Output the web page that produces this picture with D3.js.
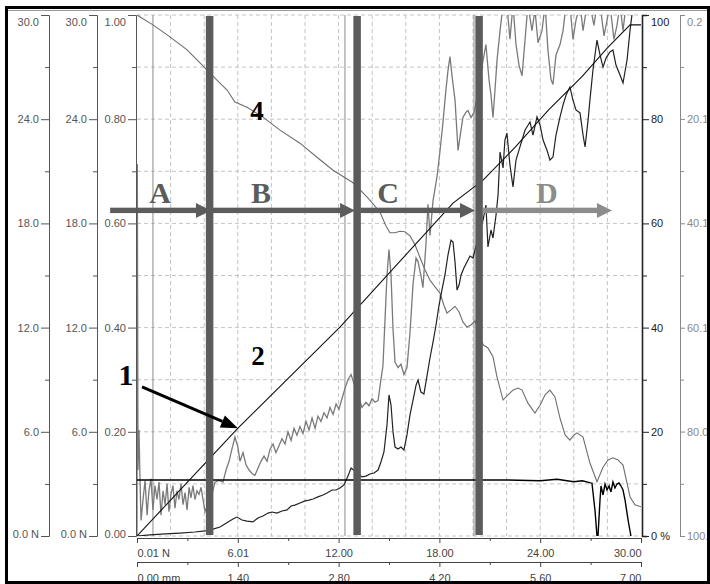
<!DOCTYPE html>
<html>
<head>
<meta charset="utf-8">
<script src="https://cdn.jsdelivr.net/npm/d3@7"></script>
<style>
  body { margin: 0; background: #fff; }
  svg { display: block; font-family: "Liberation Sans", Arial, sans-serif; }
</style>
</head>
<body>
<svg width="710" height="584"></svg>
<script>
// ---- data ----
// bottom axes
var xTickVals = [0, 6, 12, 18, 24, 30];
var xTickLabels = ["0.01 N", "6.01", "12.00", "18.00", "24.00", "30.00"];
var mmTickVals = [0, 1.4, 2.8, 4.2, 5.6, 7];
var mmTickLabels = ["0.00 mm", "1.40", "2.80", "4.20", "5.60", "7.00"];
// left axes
var nTickVals = [0, 6, 12, 18, 24, 30];
var nTickLabels = ["0.0 N", "6.0", "12.0", "18.0", "24.0", "30.0"];
var fTickVals = [0, 0.2, 0.4, 0.6, 0.8, 1.0];
// right axes
var pTickVals = [0, 20, 40, 60, 80, 100];
var pTickLabels = ["0 %", "20", "40", "60", "80", "100"];
var rTickVals = [0.2, 20.1, 40.1, 60.1, 80.0, 100.0];

// phases A-D, boundaries in bottom-axis units
var phaseNames = ["A", "B", "C", "D"];
var phaseStart = [-1.6, 4.5, 13.3, 20.6];
var phaseEnd = [4.4, 12.98, 20.12, 28.27];
var phaseLabelX = [1.37, 7.38, 14.94, 24.4];
var phaseBounds = [4.32, 13.1, 20.36];
var cursorLines = [0.95, 12.38, 20.06];

// curve 2: grey noisy force (N)
var greyForce = [
  [0,0],[0.02,21.4],[0.06,3.8],[0.12,6.1],[0.18,3.2],[0.24,0.9],[0.36,2.1],[0.48,3.2],[0.6,1.2],[0.71,2.6],
  [0.83,3.3],[0.95,1.5],[1.07,2.9],[1.19,2.1],[1.31,3.1],[1.43,1.2],[1.55,2.6],[1.67,1.8],[1.79,3.0],[1.9,1.4],
  [2.02,2.4],[2.14,2.9],[2.26,1.6],[2.38,2.6],[2.5,2.1],[2.62,3.0],[2.74,1.8],[2.86,2.5],[2.98,1.5],[3.1,2.8],
  [3.21,2.2],[3.33,2.9],[3.45,2.1],[3.57,2.6],[3.69,2.4],[3.81,2.8],[3.93,2.1],[4.05,1.4],
  [4.46,2.4],[4.64,3.1],[4.88,3.2],[5.12,3.1],[5.3,3.8],[5.48,4.3],[5.65,5.0],[5.83,5.7],[6.01,5.1],[6.13,4.3],
  [6.31,4.8],[6.49,4.1],[6.67,3.8],[6.85,3.6],[7.02,3.5],[7.2,3.9],[7.38,4.3],[7.56,4.6],[7.74,4.3],[7.92,5.0],
  [8.1,5.3],[8.27,4.8],[8.45,5.2],[8.63,5.6],[8.81,5.3],[8.99,6.0],[9.17,5.5],[9.35,6.2],[9.52,5.8],[9.7,6.3],
  [9.88,5.9],[10.06,6.6],[10.24,6.1],[10.42,6.8],[10.6,6.2],[10.77,6.9],[10.95,6.6],[11.13,7.1],[11.31,6.8],
  [11.49,7.4],[11.67,7.0],[11.85,7.6],[12.02,7.3],[12.2,7.9],[12.38,8.5],[12.56,9.0],[12.74,9.3],
  [13.39,7.4],[13.63,7.7],[13.81,7.5],[13.99,7.9],[14.17,7.7],[14.35,7.8],[14.52,9.0],[14.64,9.8],[14.76,12.4],
  [14.88,15.0],[15.0,16.5],[15.12,15.0],[15.24,11.9],[15.36,10.0],[15.54,9.7],[15.71,9.9],[15.89,9.3],[16.07,9.7],
  [16.25,11.7],[16.43,14.5],[16.61,16.0],[16.73,15.8],[16.9,15.0],[17.02,14.3],[17.2,16.8],[17.32,19.1],[17.44,17.3],
  [17.62,19.3],[17.86,20.7],[18.04,22.2],[18.21,23.8],[18.39,25.7],[18.51,26.8],[18.63,27.6],[18.75,26.5],
  [18.93,25.1],[19.11,22.2],[19.29,23.4],[19.4,24.1],[19.58,24.4],[19.7,24.5],[19.88,24.1],[20.06,24.4],[20.3,25.5],
  [20.6,27.4],[20.77,28.3],[20.95,26.3],[21.07,25.4],[21.19,24.1],[21.31,25.7],[21.43,27.4],[21.61,29.1],[21.79,30.6],
  [22.02,30.6],[22.2,28.6],[22.38,30.6],[22.56,28.3],[22.74,27.1],[22.92,26.5],[23.1,28.6],[23.27,30.6],[23.51,29.1],
  [23.69,30.3],[23.87,28.4],[24.11,29.1],[24.29,30.6],[24.46,28.0],[24.64,26.3],[24.76,26.0],[24.94,27.7],[25.18,28.3],
  [25.36,29.1],[25.54,30.6],[25.77,30.6],[25.95,28.6],[26.13,29.7],[26.37,30.6],[26.55,29.1],[26.79,30.6],[26.96,30.6],
  [27.2,29.4],[27.38,30.6],[27.56,30.6],[27.8,28.8],[27.98,29.7],[28.15,30.6],[28.39,28.6],[28.57,29.4],[28.75,30.6],
  [28.93,29.1],[29.11,30.6],[30,30.6]
];

// dark noisy force (N)
var darkForce = [
  [0,0],[0.77,0.06],[1.67,0.12],[2.56,0.17],[3.45,0.23],[4.05,0.29],[4.52,0.4],[4.94,0.52],[5.42,0.81],[5.71,0.98],
  [5.95,1.09],[6.25,0.92],[6.55,0.86],[6.9,0.81],[7.2,1.04],[7.5,1.15],[7.8,1.32],[8.04,1.38],[8.33,1.32],[8.63,1.44],
  [8.93,1.5],[9.17,1.73],[9.4,1.78],[9.7,1.9],[10.0,2.02],[10.24,2.07],[10.48,2.13],[10.77,2.25],[11.07,2.36],
  [11.31,2.48],[11.61,2.65],[11.85,2.65],[12.08,2.76],[12.32,2.94],[12.56,3.45],[12.74,3.92],
  [13.39,3.4],[13.63,3.45],[13.87,3.57],[14.11,3.63],[14.35,3.8],[14.52,4.26],[14.7,4.84],[14.88,6.39],[15.0,8.12],
  [15.12,7.54],[15.24,5.99],[15.36,5.12],[15.54,5.01],[15.71,5.12],[15.89,4.95],[16.07,5.82],[16.25,6.97],[16.43,7.83],
  [16.61,8.69],[16.73,8.98],[16.9,8.29],[17.08,8.18],[17.26,9.21],[17.44,10.25],[17.62,11.17],[17.8,12.15],[17.98,13.3],
  [18.15,14.16],[18.33,15.03],[18.51,16.18],[18.69,17.04],[18.81,16.93],[18.93,15.78],[19.05,14.16],[19.17,14.45],
  [19.29,15.03],[19.46,15.43],[19.64,15.78],[19.82,16.12],[20.0,16.01],[20.12,16.47],
  [20.6,18.2],[20.77,19.06],[20.89,16.64],[21.07,17.62],[21.19,17.16],[21.37,18.48],[21.49,19.63],[21.61,22.11],
  [21.79,21.19],[21.9,22.8],[22.02,23.2],[22.2,21.36],[22.38,20.1],[22.56,21.65],[22.74,22.23],[22.92,22.8],[23.1,23.38],
  [23.21,23.55],[23.39,23.84],[23.57,23.09],[23.81,24.13],[23.99,23.67],[24.17,22.8],[24.4,22.23],[24.58,21.65],
  [24.76,21.82],[24.94,23.09],[25.18,24.13],[25.36,24.82],[25.54,25.39],[25.77,25.85],[25.95,25.1],[26.13,24.53],
  [26.37,24.36],[26.55,23.09],[26.67,22.4],[26.85,23.95],[26.96,25.1],[27.14,26.83],[27.38,28.56],[27.56,27.7],
  [27.74,27.0],[27.92,27.52],[28.15,27.87],[28.33,27.98],[28.51,27.12],[28.75,26.54],[28.93,26.08],[29.17,27.41],
  [29.35,29.14],[29.46,30.0]
];

// curve 4: fraction 0..1
var curve4 = [
  [0,1.0],[0.95,0.981],[1.96,0.958],[2.98,0.933],[3.75,0.908],[4.17,0.894],[4.64,0.879],[5.36,0.856],[5.83,0.833],
  [6.55,0.823],[7.5,0.804],[8.51,0.779],[9.7,0.754],[10.71,0.727],[11.67,0.702],[12.86,0.678],[13.69,0.651],
  [14.46,0.622],[14.82,0.595],[15.06,0.582],[15.36,0.582],[15.65,0.585],[15.95,0.584],[16.25,0.576],[16.55,0.559],
  [16.85,0.534],[17.14,0.511],[17.44,0.491],[17.74,0.478],[18.04,0.466],[18.27,0.443],[18.45,0.428],[18.69,0.434],
  [18.93,0.441],[19.17,0.43],[19.4,0.411],[19.64,0.401],[19.88,0.405],[20.12,0.413],[20.6,0.367],[20.89,0.361],
  [21.19,0.344],[21.43,0.305],[21.79,0.261],[22.08,0.271],[22.38,0.28],[22.68,0.284],[22.92,0.28],[23.27,0.255],
  [23.69,0.236],[23.99,0.251],[24.29,0.271],[24.58,0.28],[24.88,0.267],[25.18,0.226],[25.48,0.194],[25.77,0.184],
  [26.01,0.194],[26.19,0.198],[26.55,0.19],[26.96,0.14],[27.38,0.104],[27.74,0.132],[28.04,0.146],[28.33,0.15],
  [28.63,0.146],[28.93,0.136],[29.35,0.075],[29.64,0.06],[30,0.056]
];

// curve 1: diagonal (%)
var curve1 = [
  [0,0],[6.01,20.7],[12.08,40.1],[18.81,63.9],[20.6,68.3],[22.5,74.6],[24.5,81.8],[26.5,88.2],[28,93.7],[29.35,98.1],[30,98.1]
];

// flat black line (%)
var flatLine = [
  [0,10.75],[22,10.75],[24,10.6],[25,10.9],[26,10.4],[26.5,10.6],[27,10.2],[27.08,10.17],[27.26,4.99],[27.38,0],
  [27.44,0],[27.56,6.91],[27.62,9.6],[27.74,7.87],[27.86,9.98],[27.98,8.83],[28.1,9.6],[28.21,8.45],[28.33,10.36],
  [28.45,9.21],[28.57,9.98],[28.69,10.17],[28.81,9.6],[28.93,8.83],[29.05,6.91],[29.23,3.07],[29.4,0]
];

// ---- layout ----
var svg = d3.select("svg");
var plotL = 137, plotR = 641, plotT = 15, plotB = 536;

var x = d3.scaleLinear().domain([0, 30]).range([plotL, plotR]);
var xMm = d3.scaleLinear().domain([0, 7]).range([plotL, plotR]);
var yN = d3.scaleLinear().domain([0, 30]).range([plotB, plotT]);
var yF = d3.scaleLinear().domain([0, 1]).range([plotB, plotT]);
var yP = d3.scaleLinear().domain([0, 100]).range([plotB, plotT]);
var yR = d3.scaleLinear().domain([0.2, 100]).range([plotT, plotB]);

svg.append("defs").append("clipPath").attr("id", "plot")
  .append("rect").attr("x", plotL).attr("y", plotT)
  .attr("width", plotR - plotL).attr("height", plotB - plotT);

// grid
var grid = svg.append("g").attr("stroke", "#c4c4c4").attr("stroke-dasharray", "4,3");
grid.selectAll(".h").data(yF.ticks(10)).enter().append("line")
  .attr("x1", plotL).attr("x2", plotR)
  .attr("y1", function(d) { return yF(d); }).attr("y2", function(d) { return yF(d); });
grid.selectAll(".v").data(x.ticks(10).filter(function(d) { return d > 0 && d < 30; })).enter().append("line")
  .attr("y1", plotT).attr("y2", plotB)
  .attr("x1", function(d) { return x(d); }).attr("x2", function(d) { return x(d); });

// thin cursor lines
svg.append("g").selectAll("line").data(cursorLines).enter().append("line")
  .attr("x1", function(d) { return x(d); }).attr("x2", function(d) { return x(d); })
  .attr("y1", plotT).attr("y2", plotB)
  .attr("stroke", "#8a8a8a").attr("stroke-width", 1);

// curves
var curves = svg.append("g").attr("clip-path", "url(#plot)").attr("fill", "none");
function lineFor(ys) {
  return d3.line().x(function(d) { return x(d[0]); }).y(function(d) { return ys(d[1]); });
}
curves.append("path").attr("d", lineFor(yF)(curve4)).attr("stroke", "#6e6e6e").attr("stroke-width", 1.1);
curves.append("path").attr("d", lineFor(yN)(greyForce)).attr("stroke", "#7a7a7a").attr("stroke-width", 1.3);
curves.append("path").attr("d", lineFor(yN)(darkForce)).attr("stroke", "#222").attr("stroke-width", 1.2);
curves.append("path").attr("d", lineFor(yP)(flatLine)).attr("stroke", "#000").attr("stroke-width", 1.4);
curves.append("path").attr("d", lineFor(yP)(curve1)).attr("stroke", "#111").attr("stroke-width", 1.1);

// phase boundary bars
svg.append("g").selectAll("rect").data(phaseBounds).enter().append("rect")
  .attr("x", function(d) { return x(d) - 3.7; })
  .attr("y", plotT + 1).attr("width", 7.5).attr("height", plotB - plotT - 2)
  .attr("fill", "#5c5c5c");

// phase arrows and letters
var arrowY = yF(0.625);
var phases = svg.append("g");
phaseNames.forEach(function(name, i) {
  var col = i == 3 ? "#8c8c8c" : "#5c5c5c";
  var x0 = x(phaseStart[i]), x1 = x(phaseEnd[i]);
  phases.append("rect")
    .attr("x", x0).attr("y", arrowY - 2.7)
    .attr("width", x1 - 14 - x0).attr("height", 5.4)
    .attr("fill", col);
  phases.append("path")
    .attr("d", "M" + (x1 - 15) + "," + (arrowY - 7.5) + "L" + x1 + "," + arrowY + "L" + (x1 - 15) + "," + (arrowY + 7.5) + "Z")
    .attr("fill", col);
  phases.append("text")
    .attr("x", x(phaseLabelX[i])).attr("y", yF(0.639))
    .attr("text-anchor", "middle")
    .attr("font-family", "'Liberation Serif', 'Times New Roman', serif")
    .attr("font-weight", "bold").attr("font-size", 30)
    .attr("fill", col)
    .text(name);
});

// curve labels 1, 2, 4
var serif = "'Liberation Serif', 'Times New Roman', serif";
svg.append("text").attr("x", x(-0.65)).attr("y", yF(0.29)).attr("text-anchor", "middle")
  .attr("font-family", serif).attr("font-weight", "bold").attr("font-size", 30).text("1");
svg.append("text").attr("x", x(7.2)).attr("y", yF(0.328)).attr("text-anchor", "middle")
  .attr("font-family", serif).attr("font-weight", "bold").attr("font-size", 27).text("2");
svg.append("text").attr("x", x(7.14)).attr("y", yF(0.798)).attr("text-anchor", "middle")
  .attr("font-family", serif).attr("font-weight", "bold").attr("font-size", 27).text("4");

// pointer arrow for curve 1
(function() {
  var ax0 = x(0.3), ay0 = yF(0.286), ax1 = x(6.01), ay1 = yF(0.207);
  var a = Math.atan2(ay1 - ay0, ax1 - ax0), hl = 17, hw = 6.5;
  var bx = ax1 - hl * Math.cos(a), by = ay1 - hl * Math.sin(a);
  svg.append("line").attr("x1", ax0).attr("y1", ay0).attr("x2", bx).attr("y2", by)
    .attr("stroke", "#000").attr("stroke-width", 3);
  svg.append("path")
    .attr("d", "M" + ax1 + "," + ay1 +
      "L" + (bx + hw * Math.sin(a)) + "," + (by - hw * Math.cos(a)) +
      "L" + (bx - hw * Math.sin(a)) + "," + (by + hw * Math.cos(a)) + "Z")
    .attr("fill", "#000");
})();

// ---- axes ----
function styleAxis(g, col) {
  g.attr("font-size", 11).attr("font-family", "'Liberation Sans', Arial, sans-serif").attr("color", col);
}
function edgeLabels(g) {
  // top label sits below the axis end, bottom label slightly raised
  g.selectAll(".tick text").attr("dy", function(d, i, n) {
    if (i == n.length - 1) return "0.95em";
    if (i == 0) return "0.1em";
    return "0.32em";
  });
}

function leftAxis(px, scale, vals, labels, minor) {
  var g = svg.append("g").attr("transform", "translate(" + px + ",0)");
  g.call(d3.axisLeft(scale).tickValues(vals).tickSize(8).tickSizeOuter(5).tickPadding(2)
    .tickFormat(function(d, i) { return labels ? labels[i] : d3.format(".2f")(d); }));
  styleAxis(g, "#555");
  edgeLabels(g);
  var m = svg.append("g").attr("transform", "translate(" + px + ",0)")
    .call(d3.axisLeft(scale).tickValues(minor).tickSize(4).tickFormat(""));
  m.select(".domain").remove();
  m.attr("color", "#555");
}
leftAxis(49, yN, nTickVals, nTickLabels, [3, 9, 15, 21, 27]);
leftAxis(97, yN, nTickVals, nTickLabels, [3, 9, 15, 21, 27]);
leftAxis(136, yF, fTickVals, null, [0.1, 0.3, 0.5, 0.7, 0.9]);

// right % axis
var rp = svg.append("g").attr("transform", "translate(642,0)");
rp.call(d3.axisRight(yP).tickValues(pTickVals).tickSize(7).tickSizeOuter(5).tickPadding(2)
  .tickFormat(function(d, i) { return pTickLabels[i]; }));
styleAxis(rp, "#222");
rp.select(".domain").attr("stroke-width", 1.6);
rp.selectAll(".tick text").attr("dy", function(d, i) { return i == 5 ? "0.95em" : "0.32em"; });
svg.append("g").attr("transform", "translate(642,0)").attr("color", "#222")
  .call(d3.axisRight(yP).tickValues([10, 30, 50, 70, 90]).tickSize(5).tickFormat(""))
  .select(".domain").remove();

// right inverted axis
var rr = svg.append("g").attr("transform", "translate(680,0)");
rr.call(d3.axisRight(yR).tickValues(rTickVals).tickSize(5).tickSizeOuter(5).tickPadding(2)
  .tickFormat(d3.format(".1f")));
styleAxis(rr, "#888");
rr.selectAll(".tick text").attr("dy", function(d, i) { return i == 0 ? "0.95em" : "0.32em"; });
svg.append("g").attr("transform", "translate(680,0)").attr("color", "#888")
  .call(d3.axisRight(yR).tickValues([10.15, 30.1, 50.1, 70.05, 90]).tickSize(4).tickFormat(""))
  .select(".domain").remove();

// bottom axes
function bottomAxis(py, scale, vals, labels, minor, pad) {
  var g = svg.append("g").attr("transform", "translate(0," + py + ")");
  g.call(d3.axisBottom(scale).tickValues(vals).tickSize(5).tickSizeOuter(0).tickPadding(pad)
    .tickFormat(function(d, i) { return labels[i]; }));
  styleAxis(g, "#444");
  g.selectAll(".tick text").attr("text-anchor", function(d, i) {
    return i == 0 ? "start" : (i == vals.length - 1 ? "end" : "middle");
  });
  var m = svg.append("g").attr("transform", "translate(0," + py + ")")
    .call(d3.axisBottom(scale).tickValues(minor).tickSize(3).tickFormat(""));
  m.select(".domain").remove();
  m.attr("color", "#444");
}
bottomAxis(538, x, xTickVals, xTickLabels, [3, 9, 15, 21, 27], 6);
bottomAxis(562, xMm, mmTickVals, mmTickLabels, [0.7, 2.1, 3.5, 4.9, 6.3], 7);

// outer frame
svg.append("line").attr("x1", 8).attr("x2", 707).attr("y1", 10.5).attr("y2", 10.5)
  .attr("stroke", "#999").attr("stroke-width", 1);
svg.append("rect").attr("x", 6.5).attr("y", 7.5).attr("width", 702).attr("height", 575)
  .attr("fill", "none").attr("stroke", "#000").attr("stroke-width", 3);
</script>
</body>
</html>
